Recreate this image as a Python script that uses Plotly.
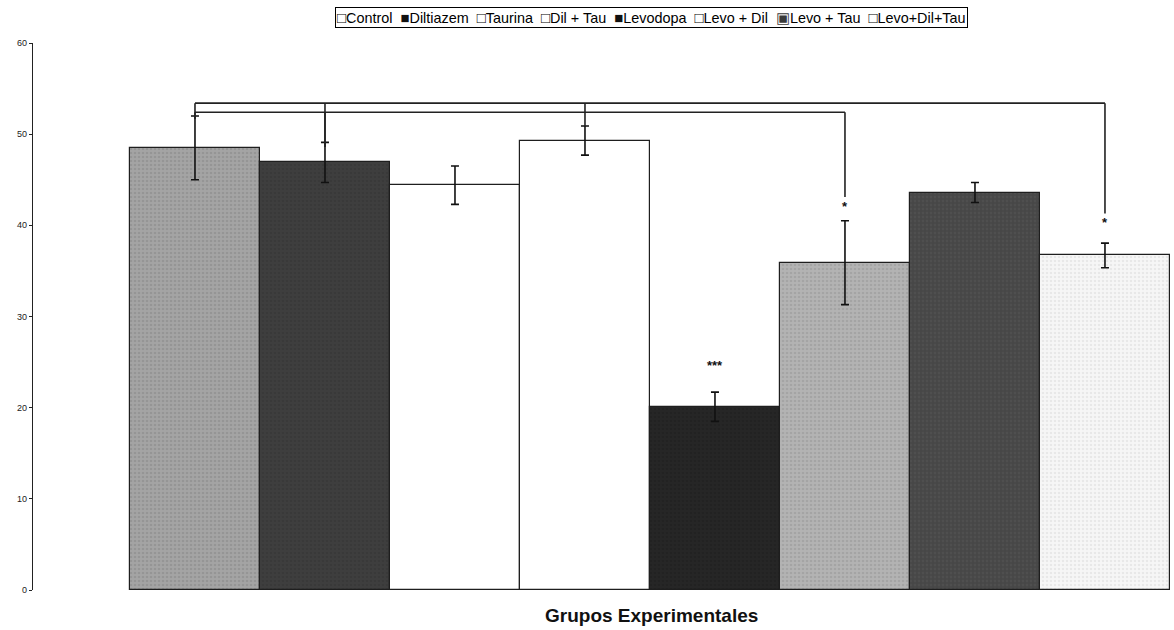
import plotly.graph_objects as go

# ---------------- data ----------------
groups = ["Control", "Diltiazem", "Taurina", "Dil + Tau", "Levodopa",
          "Levo + Dil", "Levo + Tau", "Levo+Dil+Tau"]
means = [48.5, 46.9, 44.4, 49.3, 20.1, 35.9, 43.6, 36.7]
errors = [3.5, 2.2, 2.1, 1.6, 1.6, 4.6, 1.1, 1.35]
significance = ["", "", "", "", "***", "*", "", "*"]
legend_marks = ["□", "■", "□", "□", "■", "□", "▣", "□"]
y_ticks = [0, 10, 20, 30, 40, 50, 60]
x_title = "Grupos Experimentales"

# comparison brackets: (level, list of (group index, lower end of the drop))
bracket_a_level = 53.4
bracket_a_drops = [(0, 51.7), (1, 48.6), (3, 50.9), (7, 41.3)]
bracket_b_level = 52.4
bracket_b_drops = [(0, 51.7), (1, 48.6), (5, 43.1)]

# ---------------- styles ----------------
fill = ["#a4a4a4", "#3e3e3e", "#ffffff", "#ffffff", "#262626",
        "#b3b3b3", "#474747", "#f6f6f6"]
speck = ["#858585", "#333333", None, None, "#1e1e1e",
         "#959595", "#575757", "#dadada"]
legend_colors = ["#000000", "#111111", "#000000", "#000000", "#111111",
                 "#000000", "#3a3a3a", "#000000"]
font_family = "Liberation Sans, Arial, sans-serif"

fig = go.Figure()
for i, g in enumerate(groups):
    marker = dict(color=fill[i], line=dict(color="#1e1e1e", width=1.2))
    if speck[i]:
        marker["pattern"] = dict(shape=".", fgcolor=speck[i], bgcolor=fill[i],
                                 size=4, solidity=0.35, fillmode="overlay")
    fig.add_trace(go.Bar(
        x=[i], y=[means[i]], width=1, name=g, marker=marker,
        error_y=dict(type="data", array=[errors[i]], visible=True,
                     color="#111111", thickness=1.6, width=4),
        showlegend=False, hoverinfo="skip",
    ))

# brackets
line_style = dict(color="#222222", width=1.6)
drop_low = {}
for level, drops in [(bracket_a_level, bracket_a_drops), (bracket_b_level, bracket_b_drops)]:
    xs = [d[0] for d in drops]
    fig.add_shape(type="line", x0=min(xs), x1=max(xs), y0=level, y1=level,
                  xref="x", yref="y", line=line_style)
    for gi, low in drops:
        drop_low[gi] = min(low, drop_low.get(gi, low))
        fig.add_shape(type="line", x0=gi, x1=gi, y0=level, y1=low,
                      xref="x", yref="y", line=line_style)

# significance stars (just under a bracket drop, or above the error bar)
for i, s in enumerate(significance):
    if s:
        ys = drop_low[i] - 0.65 if i in drop_low else means[i] + errors[i] + 3.3
        fig.add_annotation(x=i, y=ys, text="<b>" + s + "</b>",
                           showarrow=False, yanchor="middle", yshift=-3,
                           font=dict(family=font_family, size=13, color="#111"))

# legend (built from the group names)
legend_text = "&nbsp; ".join(
    f"<span style='color:{legend_colors[i]};font-size:15px'>{legend_marks[i]}</span>{g}"
    for i, g in enumerate(groups))
fig.add_annotation(xref="paper", yref="paper", x=0.5425, y=1.0466,
                   xanchor="center", yanchor="middle", showarrow=False,
                   text=legend_text, bordercolor="#000", borderwidth=1, borderpad=1,
                   font=dict(family=font_family, size=14.4, color="#000"))

fig.update_layout(
    width=1174, height=630,
    margin=dict(l=33, r=0, t=43, b=40),
    paper_bgcolor="white", plot_bgcolor="white",
    barmode="overlay", bargap=0,
    font=dict(family=font_family, color="#000"),
    xaxis=dict(range=[-1.246, 7.531], showticklabels=False, showgrid=False,
               zeroline=False, showline=False, ticks=""),
    yaxis=dict(range=[0, 60], tickvals=y_ticks, showgrid=False, zeroline=False,
               showline=True, linecolor="#222", linewidth=1.2, ticks="outside",
               ticklen=3, tickcolor="#222",
               tickfont=dict(size=9, family=font_family, color="#222")),
)
fig.add_annotation(xref="paper", yref="paper", x=0.5425, y=0, yanchor="middle",
                   yshift=-25, showarrow=False, text="<b>" + x_title + "</b>",
                   font=dict(family=font_family, size=19, color="#111"))

fig.write_html("out.html", config={"displayModeBar": False},
               post_script="document.body.style.margin='0';")
